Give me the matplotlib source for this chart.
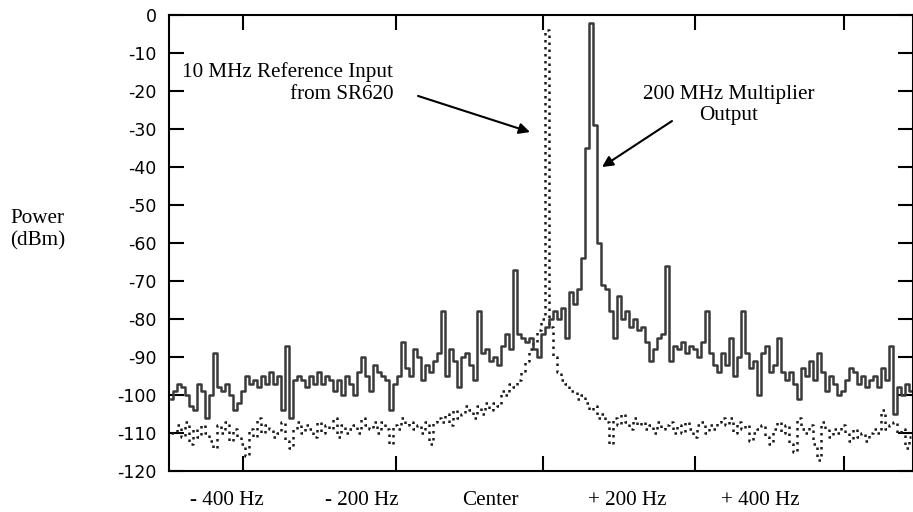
import numpy as np
import matplotlib
matplotlib.use("Agg")
import matplotlib.pyplot as plt

# Spectrum of 200 MHz multiplier output (solid), dBm per frequency bin
power_output = [
    -101, -99, -97, -98, -100, -103, -104, -97, -99, -106,
    -100, -89, -98, -99, -97, -100, -104, -102, -99, -95,
    -97, -96, -98, -95, -97, -94, -97, -95, -104, -87,
    -106, -96, -95, -96, -98, -95, -97, -94, -97, -95,
    -96, -99, -96, -100, -95, -97, -100, -94, -90, -95,
    -99, -92, -94, -95, -96, -104, -97, -95, -86, -93,
    -95, -88, -90, -96, -92, -94, -91, -89, -78, -95,
    -88, -91, -98, -90, -89, -92, -96, -78, -89, -88,
    -91, -90, -92, -87, -84, -88, -67, -84, -85, -86,
    -85, -88, -90, -84, -82, -80, -78, -80, -77, -85,
    -73, -76, -72, -64, -35, -2, -29, -60, -71, -72,
    -78, -85, -74, -80, -78, -82, -80, -83, -82, -86,
    -91, -88, -85, -84, -66, -91, -87, -88, -86, -89,
    -87, -88, -90, -86, -78, -89, -92, -94, -89, -92,
    -85, -95, -90, -78, -89, -93, -91, -100, -89, -87,
    -94, -92, -85, -94, -96, -94, -97, -101, -93, -95,
    -91, -96, -89, -94, -99, -95, -97, -100, -99, -96,
    -93, -94, -97, -95, -98, -96, -95, -98, -93, -96,
    -87, -105, -98, -100, -97, -99,
]

# Spectrum of 10 MHz reference input from SR620 (dotted), dBm per bin
power_reference = [
    -110, -110, -108, -111, -107, -113, -109, -111, -108, -110,
    -112, -114, -108, -110, -107, -112, -109, -111, -113, -116,
    -109, -111, -106, -110, -108, -109, -111, -110, -107, -112,
    -114, -109, -107, -110, -108, -109, -111, -107, -110, -108,
    -109, -106, -111, -108, -110, -109, -108, -110, -106, -108,
    -109, -107, -110, -107, -109, -113, -108, -109, -106, -108,
    -107, -109, -108, -110, -107, -113, -107, -106, -107, -105,
    -108, -104, -106, -105, -103, -104, -106, -103, -105, -102,
    -104, -102, -103, -99, -100, -97, -98, -96, -94, -91,
    -88, -86, -83, -80, -4, -82, -90, -94, -96, -97,
    -99, -99, -101, -100, -102, -104, -103, -106, -105, -107,
    -113, -106, -108, -105, -107, -109, -106, -108, -107, -109,
    -108, -110, -107, -109, -108, -107, -110, -108, -110, -107,
    -109, -111, -108, -107, -110, -108, -109, -107, -106, -108,
    -106, -110, -107, -109, -108, -112, -110, -109, -108, -111,
    -113, -109, -107, -110, -108, -113, -115, -106, -109, -110,
    -108, -113, -117, -107, -109, -111, -109, -110, -108, -110,
    -112, -109, -111, -110, -112, -110, -109, -110, -104, -109,
    -108, -107, -110, -109, -114, -111,
]

y_ticks = [0, -10, -20, -30, -40, -50, -60, -70, -80, -90, -100, -110, -120]
x_tick_positions = [18.0, 56.25, 93.0, 131.0, 168.25]
x_label_texts = ["- 400 Hz", "- 200 Hz", "Center", "+ 200 Hz", "+ 400 Hz"]
x_label_positions = [14.0, 47.75, 79.75, 114.0, 147.25]

serif = ["Liberation Serif", "DejaVu Serif"]
fs = 15.2

fig = plt.figure(figsize=(9.13, 5.12), dpi=100)
ax = fig.add_axes([169 / 913, 1 - 471 / 512, 744 / 913, 456 / 512])

bins = np.arange(len(power_output))
ax.plot(bins, power_reference, drawstyle="steps-mid", color="#1a1a1a",
        lw=1.8, linestyle=(0, (1, 1.8)))
ax.plot(bins, power_output, drawstyle="steps-mid", color="#3a3a3a", lw=1.8)

ax.set_xlim(-0.5, len(bins) - 0.5)
ax.set_ylim(-120, 0)

for s in ax.spines.values():
    s.set_linewidth(1.5)
    s.set_color("black")

ax.set_yticks(y_ticks)
ax.set_yticklabels([str(v) if v == 0 else "-%d" % (-v) for v in y_ticks],
                   fontsize=12.5, family="DejaVu Sans")
ax.tick_params(axis="y", direction="in", length=11, width=1.5,
               left=True, right=True, pad=9)
ax.set_xticks(x_tick_positions)
ax.set_xticklabels([])
ax.tick_params(axis="x", direction="in", length=11, width=1.5,
               bottom=True, top=True)

for pos, txt in zip(x_label_positions, x_label_texts):
    ax.text(pos, -0.064, txt, transform=ax.get_xaxis_transform(),
            ha="center", va="center", fontsize=fs, family=serif)

fig.text(37.5 / 913, 1 - 230 / 512, "Power\n(dBm)", ha="center", va="center",
         fontsize=fs, family=serif, multialignment="center")

ax.text(55.5, -17.9, "10 MHz Reference Input\nfrom SR620", ha="right",
        va="center", fontsize=fs, family=serif, multialignment="right")
ax.annotate("", xy=(89.75, -30.8), xytext=(61.75, -21.3),
            arrowprops=dict(arrowstyle="-|>", lw=1.5, color="black",
                            mutation_scale=16, shrinkA=0, shrinkB=0))

ax.text(139.5, -23.7, "200 MHz Multiplier\nOutput", ha="center",
        va="center", fontsize=fs, family=serif, multialignment="center")
ax.annotate("", xy=(107.75, -40.0), xytext=(125.25, -27.9),
            arrowprops=dict(arrowstyle="-|>", lw=1.5, color="black",
                            mutation_scale=16, shrinkA=0, shrinkB=0))

fig.savefig("out.png", dpi=100)
